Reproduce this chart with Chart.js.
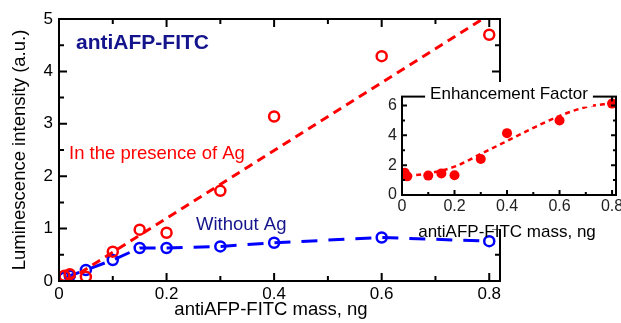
<!DOCTYPE html>
<html>
<head>
<meta charset="utf-8">
<script src="https://cdn.jsdelivr.net/npm/chart.js@4"></script>
<style>
  body { margin: 0; background: #fff; }
  #wrap { position: relative; width: 621px; height: 323px; }
  #mainChart { position: absolute; left: 0; top: 0; }
  #insetChart { position: absolute; left: 372px; top: 82px; }
</style>
</head>
<body>
<div id="wrap">
  <canvas id="mainChart" width="621" height="323"></canvas>
  <canvas id="insetChart" width="249" height="162"></canvas>
</div>
<script>
// main plot: luminescence vs antibody mass
const mass = [0.01, 0.02, 0.05, 0.1, 0.15, 0.2, 0.3, 0.4, 0.6, 0.8];
const withAg = [0.1, 0.13, 0.08, 0.56, 0.98, 0.92, 1.72, 3.14, 4.29, 4.7];
const withoutAg = [0.06, 0.1, 0.21, 0.4, 0.63, 0.63, 0.66, 0.73, 0.83, 0.76];
const fitAgX = [0.015, 0.8];
const fitAgY = [0, 5.08];

// inset: enhancement factor
const efMass = [0.01, 0.02, 0.1, 0.15, 0.2, 0.3, 0.4, 0.6, 0.8];
const efValues = [1.5, 1.25, 1.3, 1.45, 1.32, 2.42, 4.15, 5.0, 6.13];
const efFitX = [0.02, 0.1, 0.2, 0.3, 0.4, 0.5, 0.6, 0.7, 0.8];
const efFitY = [1.28, 1.45, 1.9, 2.75, 3.62, 4.5, 5.3, 5.9, 6.15];

// ticks
const xTicks = [0, 0.2, 0.4, 0.6, 0.8];
const xMinor = [0.1, 0.3, 0.5, 0.7];
const yTicks = [0, 1, 2, 3, 4, 5];
const yMinor = [0.5, 1.5, 2.5, 3.5, 4.5];
const efYTicks = [0, 2, 4, 6];
const efYMinor = [1, 3, 5];

const RED = '#ff0000';
const BLUE = '#0000ff';
const NAVY = '#14148c';
const FONT = '"Liberation Sans", Arial, sans-serif';

function pts(xs, ys) {
  return xs.map((x, i) => ({ x: x, y: ys[i] }));
}

// frame with inward ticks on all four sides
function framePlugin(xMaj, xMin, yMaj, yMin, majLen, minLen, lw) {
  return {
    id: 'frame',
    afterDraw(chart) {
      const { ctx, chartArea: a, scales } = chart;
      ctx.save();
      ctx.strokeStyle = '#000';
      ctx.lineWidth = lw;
      ctx.strokeRect(a.left, a.top, a.right - a.left, a.bottom - a.top);
      ctx.beginPath();
      const xt = (v, len) => {
        const px = scales.x.getPixelForValue(v);
        ctx.moveTo(px, a.bottom); ctx.lineTo(px, a.bottom - len);
        ctx.moveTo(px, a.top); ctx.lineTo(px, a.top + len);
      };
      const yt = (v, len) => {
        const py = scales.y.getPixelForValue(v);
        ctx.moveTo(a.left, py); ctx.lineTo(a.left + len, py);
        ctx.moveTo(a.right, py); ctx.lineTo(a.right - len, py);
      };
      xMaj.forEach(v => xt(v, majLen));
      xMin.forEach(v => xt(v, minLen));
      yMaj.forEach(v => yt(v, majLen));
      yMin.forEach(v => yt(v, minLen));
      ctx.stroke();
      ctx.restore();
    }
  };
}

const mainLabels = {
  id: 'mainLabels',
  afterDraw(chart) {
    const { ctx, chartArea: a } = chart;
    ctx.save();
    ctx.fillStyle = '#000';
    ctx.font = '18.5px ' + FONT;
    ctx.textAlign = 'center';
    ctx.textBaseline = 'middle';
    ctx.fillText('antiAFP-FITC mass, ng', 271, 310);
    ctx.save();
    ctx.translate(20, 150);
    ctx.rotate(-Math.PI / 2);
    ctx.fillText('Luminescence intensity (a.u.)', 0, 0);
    ctx.restore();
    ctx.textAlign = 'left';
    ctx.fillStyle = NAVY;
    ctx.font = 'bold 21px ' + FONT;
    ctx.fillText('antiAFP-FITC', 76, 43);
    ctx.font = '18.5px ' + FONT;
    ctx.fillText('Without Ag', 196, 225);
    ctx.fillStyle = RED;
    ctx.fillText('In the presence of Ag', 69, 154);
    ctx.restore();
  }
};

const insetLabels = {
  id: 'insetLabels',
  beforeDraw(chart) {
    const ctx = chart.ctx;
    ctx.save();
    ctx.fillStyle = '#fff';
    ctx.fillRect(14, 0, chart.width - 14, 147);
    ctx.restore();
  },
  afterDraw(chart) {
    const { ctx, chartArea: a } = chart;
    ctx.save();
    ctx.font = '17px ' + FONT;
    ctx.textAlign = 'center';
    ctx.textBaseline = 'middle';
    const title = 'Enhancement Factor';
    const cx = (a.left + a.right) / 2;
    const w = ctx.measureText(title).width;
    ctx.fillStyle = '#fff';
    ctx.fillRect(cx - w / 2 - 5, a.top - 10, w + 10, 20);
    ctx.fillStyle = '#000';
    ctx.fillText(title, cx, a.top - 2);
    ctx.fillText('antiAFP-FITC mass, ng', cx - 2, 150);
    ctx.restore();
  }
};

function fixedTicks(list) {
  return scale => { scale.ticks = list.map(v => ({ value: v })); };
}

Chart.defaults.font.family = FONT;
Chart.defaults.color = '#000';

new Chart(document.getElementById('mainChart'), {
  type: 'scatter',
  data: {
    datasets: [
      {
        data: pts(fitAgX, fitAgY),
        showLine: true,
        borderColor: RED,
        borderWidth: 3,
        borderDash: [9, 6],
        pointRadius: 0
      },
      {
        data: pts(mass, withAg),
        showLine: false,
        borderColor: RED,
        backgroundColor: 'rgba(0,0,0,0)',
        pointRadius: 5,
        pointBorderWidth: 2.5
      },
      {
        data: pts(mass, withoutAg),
        showLine: true,
        borderColor: BLUE,
        borderWidth: 3,
        borderDash: [16, 11],
        backgroundColor: 'rgba(0,0,0,0)',
        pointRadius: 5,
        pointBorderWidth: 2.5
      }
    ]
  },
  options: {
    responsive: false,
    animation: false,
    layout: { padding: { left: 0, top: 19, right: 121, bottom: 0 } },
    plugins: { legend: { display: false }, tooltip: { enabled: false } },
    scales: {
      x: {
        type: 'linear', min: 0, max: 0.82,
        grid: { display: false, drawTicks: false },
        border: { display: false },
        afterBuildTicks: fixedTicks(xTicks),
        afterFit: s => { s.height = 42; },
        ticks: { padding: 3, font: { size: 17 }, callback: v => String(v) }
      },
      y: {
        type: 'linear', min: 0, max: 5,
        grid: { display: false, drawTicks: false },
        border: { display: false },
        afterBuildTicks: fixedTicks(yTicks),
        afterFit: s => { s.width = 59; },
        ticks: { padding: 6, font: { size: 17 }, callback: v => String(v) }
      }
    }
  },
  plugins: [framePlugin(xTicks, xMinor, yTicks, yMinor, 8, 5, 2), mainLabels]
});

new Chart(document.getElementById('insetChart'), {
  type: 'scatter',
  data: {
    datasets: [
      {
        data: pts(efFitX, efFitY),
        showLine: true,
        cubicInterpolationMode: 'monotone',
        borderColor: RED,
        borderWidth: 2.5,
        borderDash: [5, 4],
        pointRadius: 0
      },
      {
        data: pts(efMass, efValues),
        showLine: false,
        borderColor: RED,
        backgroundColor: RED,
        pointRadius: 5,
        pointBorderWidth: 0
      }
    ]
  },
  options: {
    responsive: false,
    animation: false,
    layout: { padding: { left: 0, top: 10, right: 3, bottom: 0 } },
    plugins: { legend: { display: false }, tooltip: { enabled: false } },
    scales: {
      x: {
        type: 'linear', min: 0, max: 0.815,
        grid: { display: false, drawTicks: false },
        border: { display: false },
        afterBuildTicks: fixedTicks(xTicks),
        afterFit: s => { s.height = 49; s.paddingLeft = 0; s.paddingRight = 0; },
        ticks: { padding: 2, font: { size: 16 }, color: '#222', callback: v => String(v) }
      },
      y: {
        type: 'linear', min: 0, max: 6.6,
        grid: { display: false, drawTicks: false },
        border: { display: false },
        afterBuildTicks: fixedTicks(efYTicks),
        afterFit: s => { s.width = 30; },
        ticks: { padding: 5, font: { size: 16 }, color: '#222', callback: v => String(v) }
      }
    }
  },
  plugins: [framePlugin(xTicks, xMinor, efYTicks, efYMinor, 5, 3, 2), insetLabels]
});
</script>
</body>
</html>
